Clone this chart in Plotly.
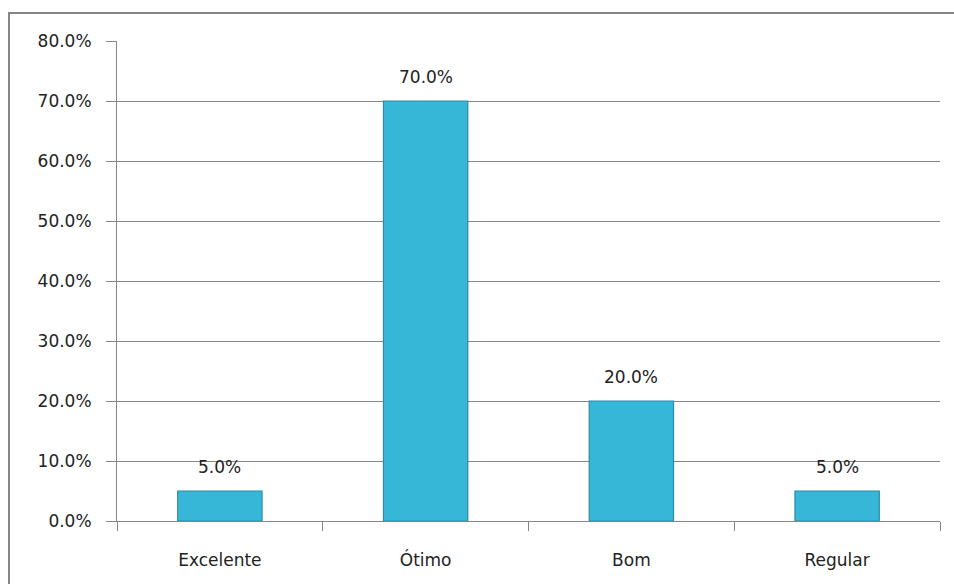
import plotly.graph_objects as go

categories = ["Excelente", "Ótimo", "Bom", "Regular"]
values = [5.0, 70.0, 20.0, 5.0]
y_ticks = [0, 10, 20, 30, 40, 50, 60, 70, 80]
y_tick_labels = [f"{v:.1f}%" for v in y_ticks]

W, H = 954, 584
L, R, T, B = 117, 14, 41, 63
pw, ph = W - L - R, H - T - B
FONT = "DejaVu Sans, Liberation Sans, Arial"

fig = go.Figure()
fig.add_trace(go.Bar(
    x=categories, y=values,
    width=0.41,
    marker=dict(color="#37b7d7", line=dict(color="#2a8ca6", width=1.2)),
    hoverinfo="skip",
))

for c, v in zip(categories, values):
    fig.add_annotation(
        x=c, y=v, xref="x", yref="y", text=f"{v:.1f}%",
        showarrow=False, yanchor="middle", yshift=24,
        font=dict(family=FONT, size=17, color="#222222"),
    )

fig.update_layout(
    width=W, height=H,
    margin=dict(l=L, r=R, t=T, b=B),
    paper_bgcolor="white", plot_bgcolor="white",
    showlegend=False,
    font=dict(family=FONT, size=17, color="#222222"),
    xaxis=dict(
        showgrid=False, showline=True, linecolor="#868686", linewidth=1,
        ticks="outside", ticklen=9, tickcolor="#868686", tickson="boundaries",
        ticklabelstandoff=24,
    ),
    yaxis=dict(
        range=[0, 80], tickvals=y_ticks, ticktext=y_tick_labels,
        showgrid=True, gridcolor="#868686", gridwidth=1,
        showline=True, linecolor="#868686", linewidth=1,
        ticks="outside", ticklen=10, tickcolor="#868686",
        ticklabelstandoff=11, zeroline=False,
    ),
    shapes=[dict(
        type="rect", xref="paper", yref="paper",
        x0=(9 - L) / pw, x1=1 + (R + 20) / pw,
        y0=-(B + 20) / ph, y1=1 + (T - 13) / ph,
        line=dict(color="#868686", width=2), fillcolor="rgba(0,0,0,0)",
        layer="below",
    )],
)

fig.write_html("out.html")
